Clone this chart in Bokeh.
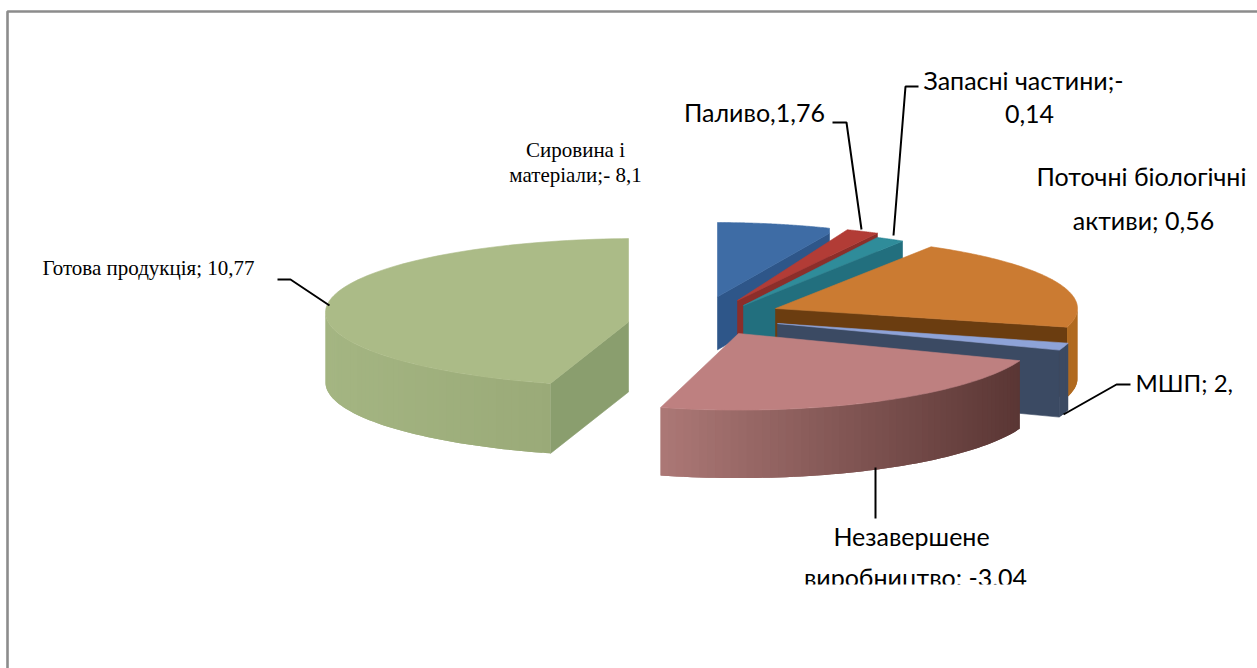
import numpy as np
from bokeh.plotting import figure
from bokeh.models import Range1d
from bokeh.core.properties import value
from bokeh.embed import file_html
from bokeh.resources import INLINE

# ---- data ----
categories = ["Сировина і матеріали", "Паливо", "Запасні частини", "Поточні біологічні активи",
              "МШП", "Незавершене виробництво", "Готова продукція"]
labelled_values = [-8.1, 1.76, -0.14, 0.56, 2, -3.04, 10.77]
# slice extents as drawn (degrees clockwise from 12 o'clock)
slice_start = [-1.6, 21.4, 26.4, 31, 105, 110.8, 196.6]
slice_sweep = [25.6, 6.3, 5.6, 74, 5.5, 84.2, 165]

# ---- layout / style ----
W, H = 1257, 668
cx = [714, 737, 743, 775, 777, 738, 640]
cy = [298, 300, 305, 308, 323, 333, 312]
rx = [301, 301, 301, 302, 301, 301, 315]
ry = [76, 76, 76, 72, 76, 76.6, 74]
depth = [53, 45, 60, 70, 67, 68, 70]
xmin = [717, None, None, None, None, None, None]
xmax = [829, None, 902, None, None, None, 628]
top_col = ["#3E6CA5", "#B23C36", "#2F8C9A", "#CB7B32", "#8EA3D8", "#BE8080", "#ABBB87"]
side_col = ["#2E5689", "#8B2E2A", "#226F7E", "#6B3D10", "#3B4A63", None, "#8A9E6E"]
rim_col = [None, None, None, ("#B06A20", "#B06A20"), ("#3B4A63", "#3B4A63"),
           ("#AC7876", "#5A3634"), ("#A4B582", "#9AAA78")]


def clip(xs, ys, lo, hi):
    pts = list(zip(xs, ys))
    for bound, sign in ((lo, 1), (hi, -1)):
        if bound is None or not pts:
            continue
        out = []
        for i in range(len(pts)):
            a, b = pts[i], pts[(i + 1) % len(pts)]
            ina, inb = sign * (a[0] - bound) >= 0, sign * (b[0] - bound) >= 0
            if ina:
                out.append(a)
            if ina != inb:
                t = (bound - a[0]) / (b[0] - a[0])
                out.append((bound, a[1] + t * (b[1] - a[1])))
        pts = out
    return [q[0] for q in pts], [q[1] for q in pts]


def rim(i, th):
    r = np.radians(th)
    return cx[i] + rx[i] * np.sin(r), cy[i] - ry[i] * np.cos(r)


def hex2(c):
    return np.array([int(c[k:k + 2], 16) for k in (1, 3, 5)], float)


def mix(a, b, t):
    v = hex2(a) * (1 - t) + hex2(b) * t
    return "#%02x%02x%02x" % tuple(int(round(q)) for q in v)


p = figure(width=W, height=H, x_range=Range1d(0, W), y_range=Range1d(H, 0),
           output_backend="svg", toolbar_location=None, min_border=0,
           x_axis_location=None, y_axis_location=None,
           styles={"position": "absolute", "left": "0px", "top": "0px"})
p.grid.visible = False
p.outline_line_color = None
p.background_fill_color = "white"
p.border_fill_color = "white"


def poly(i, xs, ys, color, stroke=True):
    xs, ys = clip(xs, ys, xmin[i], xmax[i])
    if xs:
        p.patch(xs, ys, fill_color=color, line_color=color if stroke else None,
                line_width=0.6 if stroke else 0)


for i in [6, 0, 1, 2, 3, 4, 5]:
    t0, t1 = slice_start[i], slice_start[i] + slice_sweep[i]
    d = depth[i]
    # radial wall visible on the near side
    if i == 6:
        x0, y0 = rim(i, t0)
        poly(i, [cx[i], x0, x0, cx[i]], [cy[i], y0, y0 + d, cy[i] + d], side_col[i])
    elif side_col[i]:
        x0, y0 = rim(i, t1)
        poly(i, [cx[i], x0, x0, cx[i]], [cy[i], y0, y0 + d, cy[i] + d], side_col[i])
    # outer wall: overlapping bands painted in order, so no seams appear
    if rim_col[i]:
        a = max(t0, 90)
        b = min(t1, 270)
        n = max(2, int((b - a) / 1.5))
        th = np.linspace(a, b, n + 1)
        xr, yr = rim(i, th)
        span = abs(xr[-1] - xr[0]) or 1
        lo_x = min(xr[0], xr[-1])
        for k in range(n):
            e = min(k + 2, n)
            seg = np.arange(k, e + 1)
            f = ((xr[k] + xr[k + 1]) / 2 - lo_x) / span
            col = mix(rim_col[i][0], rim_col[i][1], f)
            poly(i, list(xr[seg]) + list(xr[seg][::-1]),
                 list(yr[seg]) + list(yr[seg][::-1] + d), col, stroke=False)
    # top face
    th = np.linspace(t0, t1, 100)
    xr, yr = rim(i, th)
    poly(i, [cx[i]] + list(xr), [cy[i]] + list(yr), top_col[i])

# leader lines
leaders_x = [[277, 290, 329], [832, 846, 861], [918, 905, 893], [1130, 1116, 1063], [875, 875]]
leaders_y = [[279, 279, 305], [122, 122, 229], [86, 86, 235], [384, 384, 414], [467, 518]]
p.multi_line(leaders_x, leaders_y, line_color="black", line_width=2)

# texts
sans_txt = ["Запасні частини;-", "0,14", "Паливо,1,76", "Поточні біологічні", "активи; 0,56",
            "Незавершене", "виробництво: -3.04"]
sans_x = [1023, 1029, 754, 1141, 1143, 911, 915]
sans_y = [79, 113, 111, 175, 219, 535, 576]
p.text(sans_x, sans_y, text=sans_txt, text_font=value("Lato"), text_font_size="25px",
       text_align="center", text_baseline="middle", text_color="black")
p.text([1135], [382], text=["МШП; 2,"], text_font=value("Lato"), text_font_size="24px",
       text_align="left", text_baseline="middle", text_color="black")
# the lower part of the last label is cut off in the chart
p.quad(left=[780], right=[1060], top=[584], bottom=[610], fill_color="white", line_color=None)

serif_txt = ["Готова продукція; 10,77", "Сировина і", "матеріали;- 8,1"]
serif_x = [148, 575, 575]
serif_y = [267, 149, 174]
p.text(serif_x, serif_y, text=serif_txt, text_font=value("Liberation Serif"), text_font_size="21px",
       text_align="center", text_baseline="middle", text_color="black")

# frame
p.multi_line([[7, 7, W]], [[H, 11, 11]], line_color="#8C8C8C", line_width=2.6)

open("out.html", "w").write(file_html(p, INLINE))
